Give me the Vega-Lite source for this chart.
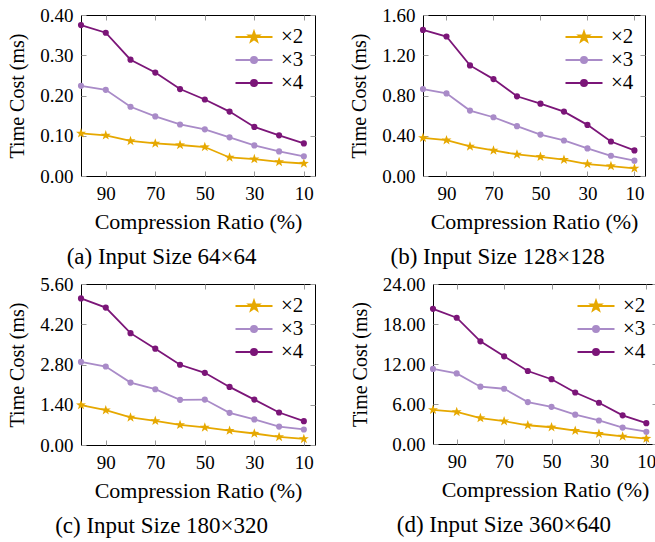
{
"$schema": "https://vega.github.io/schema/vega-lite/v6.json",
"padding": {"top": 5, "left": 7, "right": 0, "bottom": 0},
"background": "white",
"config": {
 "font": "Liberation Serif",
 "view": {"stroke": "black", "strokeWidth": 1},
 "axis": {"labelFont": "Liberation Serif", "labelFontSize": 19, "labelColor": "black", "titleFont": "Liberation Serif", "titleFontSize": 22, "titleFontWeight": "normal", "titleColor": "black", "domain": false, "grid": false, "tickColor": "#999999", "tickSize": -5, "labelPadding": 13, "titlePadding": 8},
 "axisY": {"titlePadding": 12, "titleFontSize": 20},
 "title": {"font": "Liberation Serif", "fontSize": 23, "fontWeight": "normal", "color": "black", "orient": "bottom", "anchor": "middle", "frame": "bounds", "offset": 14},
 "legend": {"labelFont": "Liberation Serif", "labelFontSize": 21, "labelColor": "black", "title": null, "orient": "top-right", "offset": 11, "padding": 0, "symbolType": "M-1.85,0H1.85M0.31,0A0.31,0.31 0 1,1 -0.31,0A0.31,0.31 0 1,1 0.31,0Z", "symbolSize": 400, "symbolStrokeWidth": 1.8, "labelOffset": 16, "rowPadding": 2}
},
"datasets": {
 "a": [
  {"ratio":100,"series":"×2","t":0.106},{"ratio":90,"series":"×2","t":0.101},{"ratio":80,"series":"×2","t":0.087},{"ratio":70,"series":"×2","t":0.081},{"ratio":60,"series":"×2","t":0.077},{"ratio":50,"series":"×2","t":0.072},{"ratio":40,"series":"×2","t":0.046},{"ratio":30,"series":"×2","t":0.042},{"ratio":20,"series":"×2","t":0.035},{"ratio":10,"series":"×2","t":0.031},
  {"ratio":100,"series":"×3","t":0.224},{"ratio":90,"series":"×3","t":0.214},{"ratio":80,"series":"×3","t":0.172},{"ratio":70,"series":"×3","t":0.148},{"ratio":60,"series":"×3","t":0.128},{"ratio":50,"series":"×3","t":0.116},{"ratio":40,"series":"×3","t":0.096},{"ratio":30,"series":"×3","t":0.076},{"ratio":20,"series":"×3","t":0.061},{"ratio":10,"series":"×3","t":0.049},
  {"ratio":100,"series":"×4","t":0.375},{"ratio":90,"series":"×4","t":0.356},{"ratio":80,"series":"×4","t":0.289},{"ratio":70,"series":"×4","t":0.257},{"ratio":60,"series":"×4","t":0.216},{"ratio":50,"series":"×4","t":0.190},{"ratio":40,"series":"×4","t":0.160},{"ratio":30,"series":"×4","t":0.122},{"ratio":20,"series":"×4","t":0.101},{"ratio":10,"series":"×4","t":0.081}
 ],
 "b": [
  {"ratio":100,"series":"×2","t":0.379},{"ratio":90,"series":"×2","t":0.356},{"ratio":80,"series":"×2","t":0.294},{"ratio":70,"series":"×2","t":0.254},{"ratio":60,"series":"×2","t":0.214},{"ratio":50,"series":"×2","t":0.191},{"ratio":40,"series":"×2","t":0.162},{"ratio":30,"series":"×2","t":0.119},{"ratio":20,"series":"×2","t":0.099},{"ratio":10,"series":"×2","t":0.076},
  {"ratio":100,"series":"×3","t":0.864},{"ratio":90,"series":"×3","t":0.821},{"ratio":80,"series":"×3","t":0.650},{"ratio":70,"series":"×3","t":0.584},{"ratio":60,"series":"×3","t":0.495},{"ratio":50,"series":"×3","t":0.412},{"ratio":40,"series":"×3","t":0.353},{"ratio":30,"series":"×3","t":0.274},{"ratio":20,"series":"×3","t":0.201},{"ratio":10,"series":"×3","t":0.152},
  {"ratio":100,"series":"×4","t":1.452},{"ratio":90,"series":"×4","t":1.386},{"ratio":80,"series":"×4","t":1.099},{"ratio":70,"series":"×4","t":0.963},{"ratio":60,"series":"×4","t":0.792},{"ratio":50,"series":"×4","t":0.719},{"ratio":40,"series":"×4","t":0.640},{"ratio":30,"series":"×4","t":0.508},{"ratio":20,"series":"×4","t":0.343},{"ratio":10,"series":"×4","t":0.254}
 ],
 "c": [
  {"ratio":100,"series":"×2","t":1.39},{"ratio":90,"series":"×2","t":1.21},{"ratio":80,"series":"×2","t":0.96},{"ratio":70,"series":"×2","t":0.84},{"ratio":60,"series":"×2","t":0.70},{"ratio":50,"series":"×2","t":0.61},{"ratio":40,"series":"×2","t":0.50},{"ratio":30,"series":"×2","t":0.40},{"ratio":20,"series":"×2","t":0.28},{"ratio":10,"series":"×2","t":0.21},
  {"ratio":100,"series":"×3","t":2.89},{"ratio":90,"series":"×3","t":2.73},{"ratio":80,"series":"×3","t":2.17},{"ratio":70,"series":"×3","t":1.94},{"ratio":60,"series":"×3","t":1.57},{"ratio":50,"series":"×3","t":1.58},{"ratio":40,"series":"×3","t":1.12},{"ratio":30,"series":"×3","t":0.89},{"ratio":20,"series":"×3","t":0.64},{"ratio":10,"series":"×3","t":0.54},
  {"ratio":100,"series":"×4","t":5.10},{"ratio":90,"series":"×4","t":4.78},{"ratio":80,"series":"×4","t":3.89},{"ratio":70,"series":"×4","t":3.35},{"ratio":60,"series":"×4","t":2.79},{"ratio":50,"series":"×4","t":2.51},{"ratio":40,"series":"×4","t":2.02},{"ratio":30,"series":"×4","t":1.58},{"ratio":20,"series":"×4","t":1.13},{"ratio":10,"series":"×4","t":0.83}
 ],
 "d": [
  {"ratio":100,"series":"×2","t":5.12},{"ratio":90,"series":"×2","t":4.81},{"ratio":80,"series":"×2","t":3.89},{"ratio":70,"series":"×2","t":3.43},{"ratio":60,"series":"×2","t":2.81},{"ratio":50,"series":"×2","t":2.51},{"ratio":40,"series":"×2","t":2.00},{"ratio":30,"series":"×2","t":1.54},{"ratio":20,"series":"×2","t":1.13},{"ratio":10,"series":"×2","t":0.82},
  {"ratio":100,"series":"×3","t":11.26},{"ratio":90,"series":"×3","t":10.59},{"ratio":80,"series":"×3","t":8.60},{"ratio":70,"series":"×3","t":8.29},{"ratio":60,"series":"×3","t":6.29},{"ratio":50,"series":"×3","t":5.58},{"ratio":40,"series":"×3","t":4.40},{"ratio":30,"series":"×3","t":3.53},{"ratio":20,"series":"×3","t":2.46},{"ratio":10,"series":"×3","t":1.84},
  {"ratio":100,"series":"×4","t":20.27},{"ratio":90,"series":"×4","t":18.94},{"ratio":80,"series":"×4","t":15.40},{"ratio":70,"series":"×4","t":13.15},{"ratio":60,"series":"×4","t":10.95},{"ratio":50,"series":"×4","t":9.72},{"ratio":40,"series":"×4","t":7.73},{"ratio":30,"series":"×4","t":6.19},{"ratio":20,"series":"×4","t":4.30},{"ratio":10,"series":"×4","t":3.12}
 ]
},
"spacing": 4,
"resolve": {"scale": {"color": "independent", "x": "independent", "y": "independent"}, "legend": {"color": "independent"}},
"vconcat": [
 {"spacing": 33,
  "resolve": {"scale": {"color": "independent", "x": "independent", "y": "independent"}, "legend": {"color": "independent"}},
  "hconcat": [
  {"data": {"name": "a"}, "width": 234, "height": 161,
   "title": {"text": "(a) Input Size 64×64"},
   "encoding": {"color": {"field": "series", "type": "nominal", "scale": {"domain": ["×2","×3","×4"], "range": ["#E6A800","#A98BC8","#7B1578"]},
     "legend": {"labelFont": "Liberation Serif", "encode": {"labels": {"update": {"font": {"value": "Liberation Serif"}, "fontSize": {"value": 21}, "fill": {"value": "black"}}}, "symbols": {"update": {"shape": {"signal": "datum.value === '×2' ? 'M-1.85,0H1.85M0,-0.55L0.129,-0.178L0.523,-0.170L0.209,0.068L0.323,0.445L0,0.22L-0.323,0.445L-0.209,0.068L-0.523,-0.170L-0.129,-0.178Z' : 'M-1.85,0H1.85M0.31,0A0.31,0.31 0 1,1 -0.31,0A0.31,0.31 0 1,1 0.31,0Z'"}, "fill": {"signal": "datum.value === '×2' ? '#E6A800' : datum.value === '×3' ? '#A98BC8' : '#7B1578'"}, "stroke": {"signal": "datum.value === '×2' ? '#E6A800' : datum.value === '×3' ? '#A98BC8' : '#7B1578'"}, "opacity": {"value": 1}}}}}}},
   "layer": [
    {"mark": {"type": "line", "strokeWidth": 1.8},
     "encoding": {"x": {"field": "ratio", "type": "quantitative", "scale": {"domain": [5.5, 100], "reverse": true, "nice": false, "zero": false}, "axis": {"values": [90,70,50,30,10], "title": "Compression Ratio (%)", "orient": "bottom"}},
                  "y": {"field": "t", "type": "quantitative", "scale": {"domain": [0, 0.4], "nice": false}, "axis": {"values": [0,0.1,0.2,0.3,0.4], "format": ".2f", "title": "Time Cost (ms)", "orient": "left"}}}},
    {"transform": [{"filter": "datum.series === '×2'"}],
     "mark": {"type": "point", "filled": true, "opacity": 1, "size": 110, "shape": "M0,-1L0.235,-0.324L0.951,-0.309L0.380,0.124L0.588,0.809L0,0.4L-0.588,0.809L-0.380,0.124L-0.951,-0.309L-0.235,-0.324Z"},
     "encoding": {"x": {"field": "ratio", "type": "quantitative", "scale": {"domain": [5.5, 100], "reverse": true, "nice": false, "zero": false}, "axis": {"values": [90,70,50,30,10], "labels": false, "title": null, "orient": "top"}},
                  "y": {"field": "t", "type": "quantitative", "scale": {"domain": [0, 0.4], "nice": false}, "axis": {"values": [0,0.1,0.2,0.3,0.4], "labels": false, "title": null, "orient": "right"}}}},
    {"transform": [{"filter": "datum.series !== '×2'"}],
     "mark": {"type": "point", "filled": true, "opacity": 1, "size": 38, "shape": "circle"},
     "encoding": {"x": {"field": "ratio", "type": "quantitative", "axis": null},
                  "y": {"field": "t", "type": "quantitative", "axis": null}}}
   ],
   "resolve": {"axis": {"x": "independent", "y": "independent"}}
  },
  {"data": {"name": "b"}, "width": 222, "height": 161,
   "title": {"text": "(b) Input Size 128×128"},
   "encoding": {"color": {"field": "series", "type": "nominal", "scale": {"domain": ["×2","×3","×4"], "range": ["#E6A800","#A98BC8","#7B1578"]},
     "legend": {"labelFont": "Liberation Serif", "encode": {"labels": {"update": {"font": {"value": "Liberation Serif"}, "fontSize": {"value": 21}, "fill": {"value": "black"}}}, "symbols": {"update": {"shape": {"signal": "datum.value === '×2' ? 'M-1.85,0H1.85M0,-0.55L0.129,-0.178L0.523,-0.170L0.209,0.068L0.323,0.445L0,0.22L-0.323,0.445L-0.209,0.068L-0.523,-0.170L-0.129,-0.178Z' : 'M-1.85,0H1.85M0.31,0A0.31,0.31 0 1,1 -0.31,0A0.31,0.31 0 1,1 0.31,0Z'"}, "fill": {"signal": "datum.value === '×2' ? '#E6A800' : datum.value === '×3' ? '#A98BC8' : '#7B1578'"}, "stroke": {"signal": "datum.value === '×2' ? '#E6A800' : datum.value === '×3' ? '#A98BC8' : '#7B1578'"}, "opacity": {"value": 1}}}}}}},
   "layer": [
    {"mark": {"type": "line", "strokeWidth": 1.8},
     "encoding": {"x": {"field": "ratio", "type": "quantitative", "scale": {"domain": [5.5, 100], "reverse": true, "nice": false, "zero": false}, "axis": {"values": [90,70,50,30,10], "title": "Compression Ratio (%)", "orient": "bottom"}},
                  "y": {"field": "t", "type": "quantitative", "scale": {"domain": [0, 1.6], "nice": false}, "axis": {"values": [0,0.4,0.8,1.2,1.6], "format": ".2f", "title": "Time Cost (ms)", "orient": "left"}}}},
    {"transform": [{"filter": "datum.series === '×2'"}],
     "mark": {"type": "point", "filled": true, "opacity": 1, "size": 110, "shape": "M0,-1L0.235,-0.324L0.951,-0.309L0.380,0.124L0.588,0.809L0,0.4L-0.588,0.809L-0.380,0.124L-0.951,-0.309L-0.235,-0.324Z"},
     "encoding": {"x": {"field": "ratio", "type": "quantitative", "scale": {"domain": [5.5, 100], "reverse": true, "nice": false, "zero": false}, "axis": {"values": [90,70,50,30,10], "labels": false, "title": null, "orient": "top"}},
                  "y": {"field": "t", "type": "quantitative", "scale": {"domain": [0, 1.6], "nice": false}, "axis": {"values": [0,0.4,0.8,1.2,1.6], "labels": false, "title": null, "orient": "right"}}}},
    {"transform": [{"filter": "datum.series !== '×2'"}],
     "mark": {"type": "point", "filled": true, "opacity": 1, "size": 38, "shape": "circle"},
     "encoding": {"x": {"field": "ratio", "type": "quantitative", "axis": null},
                  "y": {"field": "t", "type": "quantitative", "axis": null}}}
   ],
   "resolve": {"axis": {"x": "independent", "y": "independent"}}
  }
 ]},
 {"spacing": 33,
  "resolve": {"scale": {"color": "independent", "x": "independent", "y": "independent"}, "legend": {"color": "independent"}},
  "hconcat": [
  {"data": {"name": "c"}, "width": 234, "height": 161,
   "title": {"text": "(c) Input Size 180×320"},
   "encoding": {"color": {"field": "series", "type": "nominal", "scale": {"domain": ["×2","×3","×4"], "range": ["#E6A800","#A98BC8","#7B1578"]},
     "legend": {"labelFont": "Liberation Serif", "encode": {"labels": {"update": {"font": {"value": "Liberation Serif"}, "fontSize": {"value": 21}, "fill": {"value": "black"}}}, "symbols": {"update": {"shape": {"signal": "datum.value === '×2' ? 'M-1.85,0H1.85M0,-0.55L0.129,-0.178L0.523,-0.170L0.209,0.068L0.323,0.445L0,0.22L-0.323,0.445L-0.209,0.068L-0.523,-0.170L-0.129,-0.178Z' : 'M-1.85,0H1.85M0.31,0A0.31,0.31 0 1,1 -0.31,0A0.31,0.31 0 1,1 0.31,0Z'"}, "fill": {"signal": "datum.value === '×2' ? '#E6A800' : datum.value === '×3' ? '#A98BC8' : '#7B1578'"}, "stroke": {"signal": "datum.value === '×2' ? '#E6A800' : datum.value === '×3' ? '#A98BC8' : '#7B1578'"}, "opacity": {"value": 1}}}}}}},
   "layer": [
    {"mark": {"type": "line", "strokeWidth": 1.8},
     "encoding": {"x": {"field": "ratio", "type": "quantitative", "scale": {"domain": [5.5, 100], "reverse": true, "nice": false, "zero": false}, "axis": {"values": [90,70,50,30,10], "title": "Compression Ratio (%)", "orient": "bottom"}},
                  "y": {"field": "t", "type": "quantitative", "scale": {"domain": [0, 5.6], "nice": false}, "axis": {"values": [0,1.4,2.8,4.2,5.6], "format": ".2f", "title": "Time Cost (ms)", "orient": "left"}}}},
    {"transform": [{"filter": "datum.series === '×2'"}],
     "mark": {"type": "point", "filled": true, "opacity": 1, "size": 110, "shape": "M0,-1L0.235,-0.324L0.951,-0.309L0.380,0.124L0.588,0.809L0,0.4L-0.588,0.809L-0.380,0.124L-0.951,-0.309L-0.235,-0.324Z"},
     "encoding": {"x": {"field": "ratio", "type": "quantitative", "scale": {"domain": [5.5, 100], "reverse": true, "nice": false, "zero": false}, "axis": {"values": [90,70,50,30,10], "labels": false, "title": null, "orient": "top"}},
                  "y": {"field": "t", "type": "quantitative", "scale": {"domain": [0, 5.6], "nice": false}, "axis": {"values": [0,1.4,2.8,4.2,5.6], "labels": false, "title": null, "orient": "right"}}}},
    {"transform": [{"filter": "datum.series !== '×2'"}],
     "mark": {"type": "point", "filled": true, "opacity": 1, "size": 38, "shape": "circle"},
     "encoding": {"x": {"field": "ratio", "type": "quantitative", "axis": null},
                  "y": {"field": "t", "type": "quantitative", "axis": null}}}
   ],
   "resolve": {"axis": {"x": "independent", "y": "independent"}}
  },
  {"data": {"name": "d"}, "width": 224, "height": 160,
   "title": {"text": "(d) Input Size 360×640"},
   "encoding": {"color": {"field": "series", "type": "nominal", "scale": {"domain": ["×2","×3","×4"], "range": ["#E6A800","#A98BC8","#7B1578"]},
     "legend": {"labelFont": "Liberation Serif", "encode": {"labels": {"update": {"font": {"value": "Liberation Serif"}, "fontSize": {"value": 21}, "fill": {"value": "black"}}}, "symbols": {"update": {"shape": {"signal": "datum.value === '×2' ? 'M-1.85,0H1.85M0,-0.55L0.129,-0.178L0.523,-0.170L0.209,0.068L0.323,0.445L0,0.22L-0.323,0.445L-0.209,0.068L-0.523,-0.170L-0.129,-0.178Z' : 'M-1.85,0H1.85M0.31,0A0.31,0.31 0 1,1 -0.31,0A0.31,0.31 0 1,1 0.31,0Z'"}, "fill": {"signal": "datum.value === '×2' ? '#E6A800' : datum.value === '×3' ? '#A98BC8' : '#7B1578'"}, "stroke": {"signal": "datum.value === '×2' ? '#E6A800' : datum.value === '×3' ? '#A98BC8' : '#7B1578'"}, "opacity": {"value": 1}}}}}}},
   "layer": [
    {"mark": {"type": "line", "strokeWidth": 1.8},
     "encoding": {"x": {"field": "ratio", "type": "quantitative", "scale": {"domain": [5.5, 100], "reverse": true, "nice": false, "zero": false}, "axis": {"values": [90,70,50,30,10], "title": "Compression Ratio (%)", "orient": "bottom"}},
                  "y": {"field": "t", "type": "quantitative", "scale": {"domain": [0, 24], "nice": false}, "axis": {"values": [0,6,12,18,24], "format": ".2f", "title": "Time Cost (ms)", "orient": "left"}}}},
    {"transform": [{"filter": "datum.series === '×2'"}],
     "mark": {"type": "point", "filled": true, "opacity": 1, "size": 110, "shape": "M0,-1L0.235,-0.324L0.951,-0.309L0.380,0.124L0.588,0.809L0,0.4L-0.588,0.809L-0.380,0.124L-0.951,-0.309L-0.235,-0.324Z"},
     "encoding": {"x": {"field": "ratio", "type": "quantitative", "scale": {"domain": [5.5, 100], "reverse": true, "nice": false, "zero": false}, "axis": {"values": [90,70,50,30,10], "labels": false, "title": null, "orient": "top"}},
                  "y": {"field": "t", "type": "quantitative", "scale": {"domain": [0, 24], "nice": false}, "axis": {"values": [0,6,12,18,24], "labels": false, "title": null, "orient": "right"}}}},
    {"transform": [{"filter": "datum.series !== '×2'"}],
     "mark": {"type": "point", "filled": true, "opacity": 1, "size": 38, "shape": "circle"},
     "encoding": {"x": {"field": "ratio", "type": "quantitative", "axis": null},
                  "y": {"field": "t", "type": "quantitative", "axis": null}}}
   ],
   "resolve": {"axis": {"x": "independent", "y": "independent"}}
  }
 ]}
]
}
